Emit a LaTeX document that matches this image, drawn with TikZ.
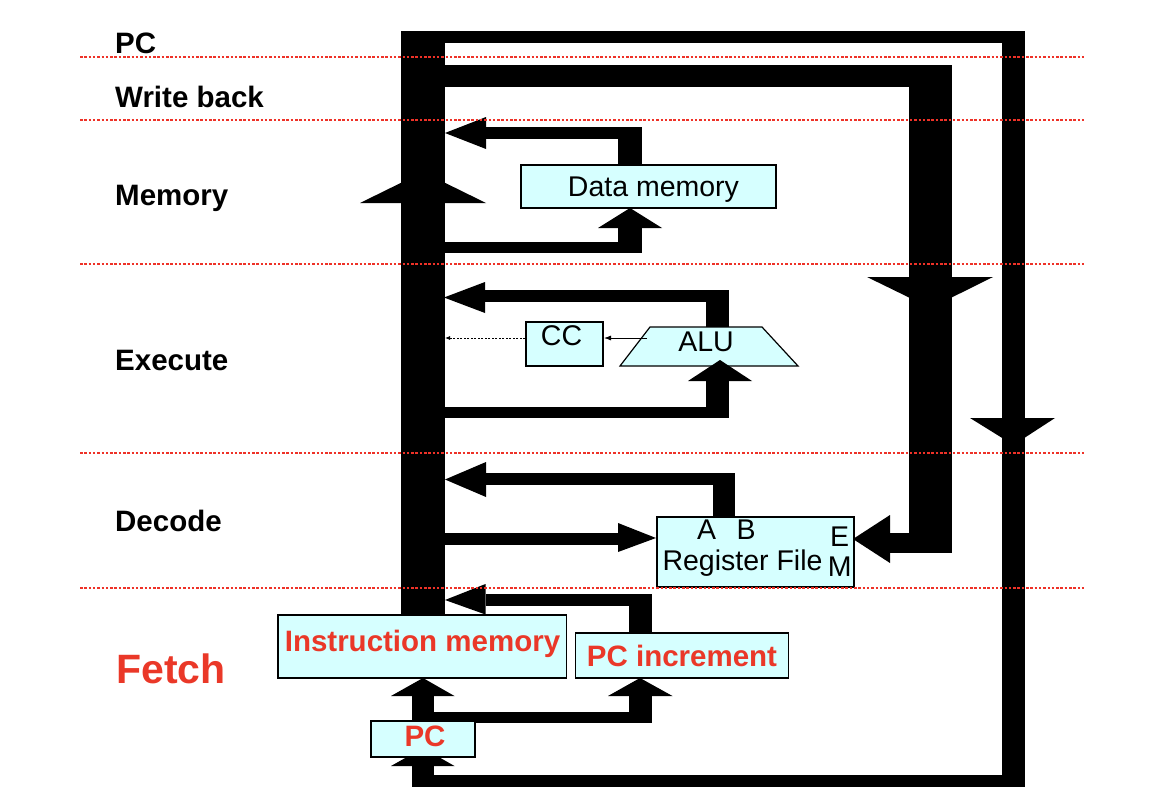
\documentclass[tikz,border=0pt]{standalone}
\usepackage{fontspec}
\setmainfont{Liberation Sans}
\usetikzlibrary{arrows.meta}
\definecolor{boxfill}{RGB}{214,255,255}
\definecolor{fetchred}{RGB}{234,56,40}
\definecolor{linered}{RGB}{238,50,40}
\begin{document}
\begin{tikzpicture}[x=1pt,y=-1pt,
  stagelbl/.style={anchor=base west, inner sep=0pt, font=\fontsize{29.5}{32}\selectfont\bfseries},
  unitbox/.style={draw=black, line width=1.2pt, fill=boxfill, inner sep=0pt},
  boxtxt/.style={anchor=base, inner sep=0pt, font=\fontsize{28.5}{30}\selectfont},
  redtxt/.style={anchor=base, inner sep=0pt, text=fetchred, font=\fontsize{29.5}{32}\selectfont\bfseries},
  sepline/.style={linered, line width=2pt, dash pattern=on 2.5pt off 1.8pt},
  bus/.style={fill=black}]
\useasboundingbox (0,0) rectangle (1168,800);

% ---- outer PC loop ----
\fill[bus] (401,31) rectangle (445,615);
\fill[bus] (445,31) rectangle (1025,43);
\fill[bus] (1002,43) rectangle (1025,787);
\fill[bus] (412,775) rectangle (1002,787);
\fill[bus] (412,757) rectangle (434,775);
\fill[bus] (391,766) -- (454.5,766) -- (423,748) -- cycle;
\fill[bus] (970,418) -- (1055,418) -- (1013.5,445) -- cycle;

% ---- write back ----
\fill[bus] (445,65) rectangle (952,87);
\fill[bus] (909,87) rectangle (952,553);
\fill[bus] (890,533) rectangle (909,553);
\fill[bus] (890,515) -- (890,563) -- (853,539) -- cycle;
\fill[bus] (867,277) -- (993,277) -- (930.5,308) -- cycle;

% ---- main bus up arrow ----
\fill[bus] (360,203) -- (486,203) -- (423,172) -- cycle;

% ---- memory ----
\fill[bus] (618,127) rectangle (642,165);
\fill[bus] (486,127) rectangle (642,139);
\fill[bus] (486,117) -- (486,149) -- (445,133) -- cycle;
\fill[bus] (445,241.7) rectangle (642,253);
\fill[bus] (618,228) rectangle (642,241.7);
\fill[bus] (598,228) -- (662,228) -- (630,208) -- cycle;

% ---- execute ----
\fill[bus] (485,290) rectangle (729,302);
\fill[bus] (706,302) rectangle (729,327);
\fill[bus] (485,282) -- (485,313) -- (444,297.5) -- cycle;
\draw[line width=1.2pt, fill=boxfill] (650,327) -- (762,327) -- (798,366) -- (620,366) -- cycle;
\coordinate (aluout) at (647,338);
\fill[bus] (445,407) rectangle (729,418);
\fill[bus] (706,381) rectangle (729,407);
\fill[bus] (688,381) -- (752,381) -- (720,360) -- cycle;
\node[unitbox, minimum width=77, minimum height=44] (cc) at (564.5,344) {};
\coordinate (ccin) at (604,338);
\coordinate (ccout) at (525,338);
\coordinate (busin) at (445,338);
\draw[line width=0.8pt, -{Latex[length=7pt,width=5pt]}] (aluout) -- (ccin);
\draw[line width=0.8pt, dash pattern=on 2pt off 1.5pt, -{Latex[length=5pt,width=4pt]}] (ccout) -- (busin);

% ---- data memory ----
\node[unitbox, minimum width=255, minimum height=43] (dmem) at (648.5,186.5) {};

% ---- decode ----
\fill[bus] (713,473) rectangle (735,517);
\fill[bus] (486,473) rectangle (735,485);
\fill[bus] (486,462) -- (486,497) -- (445,479.5) -- cycle;
\fill[bus] (445,533) rectangle (618,545);
\fill[bus] (618,523) -- (618,552) -- (656,538) -- cycle;
\node[unitbox, minimum width=197, minimum height=70] (rf) at (755.5,552) {};

% ---- fetch ----
\fill[bus] (628.5,594) rectangle (652,633);
\fill[bus] (485.5,594) rectangle (652,605.5);
\fill[bus] (485.5,584) -- (485.5,614.5) -- (445,600) -- cycle;
\fill[bus] (412,696) rectangle (434,721);
\fill[bus] (391,696) -- (454.5,696) -- (423,678) -- cycle;
\fill[bus] (434,712) rectangle (652,723);
\fill[bus] (628.5,696) rectangle (652,712);
\fill[bus] (608,696) -- (672.5,696) -- (640,678) -- cycle;
\node[unitbox, minimum width=288.5, minimum height=63] (imem) at (422.25,646.5) {};
\node[unitbox, minimum width=213, minimum height=45] (pcinc) at (682,655.5) {};
\node[unitbox, minimum width=104, minimum height=36] (pc) at (423,739) {};

% ---- stage separators ----
\foreach \yy in {56.7,119.5,263.7,452.7,587.5}
  \draw[sepline] (80,\yy) -- (1085,\yy);

% ---- stage labels ----
\node[stagelbl] (lpc) at (115,54) {PC};
\node[stagelbl] (lwb) at (115,107.3) {Write back};
\node[stagelbl] (lmem) at (115,205.7) {Memory};
\node[stagelbl] (lex) at (115,370) {Execute};
\node[stagelbl] (ldec) at (115,531.7) {Decode};
\node[anchor=base west, inner sep=0pt, text=fetchred, font=\fontsize{41}{44}\selectfont\bfseries] (lfetch) at (116,683.3) {Fetch};

% ---- unit texts ----
\node[boxtxt] (tdmem) at (653.5,196) {Data memory};
\node[boxtxt] (tcc) at (561.5,345) {CC};
\node[boxtxt] (talu) at (706,351.7) {ALU};
\node[boxtxt] (ta) at (706.5,539.3) {A};
\node[boxtxt] (tb) at (746,539.3) {B};
\node[boxtxt] (trf) at (742.5,570.7) {Register File};
\node[boxtxt] (te) at (839.5,546.7) {E};
\node[boxtxt] (tm) at (839.7,576.7) {M};
\node[redtxt] (timem) at (422.5,651.7) {Instruction memory};
\node[redtxt] (tpcinc) at (682,666) {PC increment};
\node[redtxt] (tpc) at (425,746.7) {PC};
\end{tikzpicture}
\end{document}
